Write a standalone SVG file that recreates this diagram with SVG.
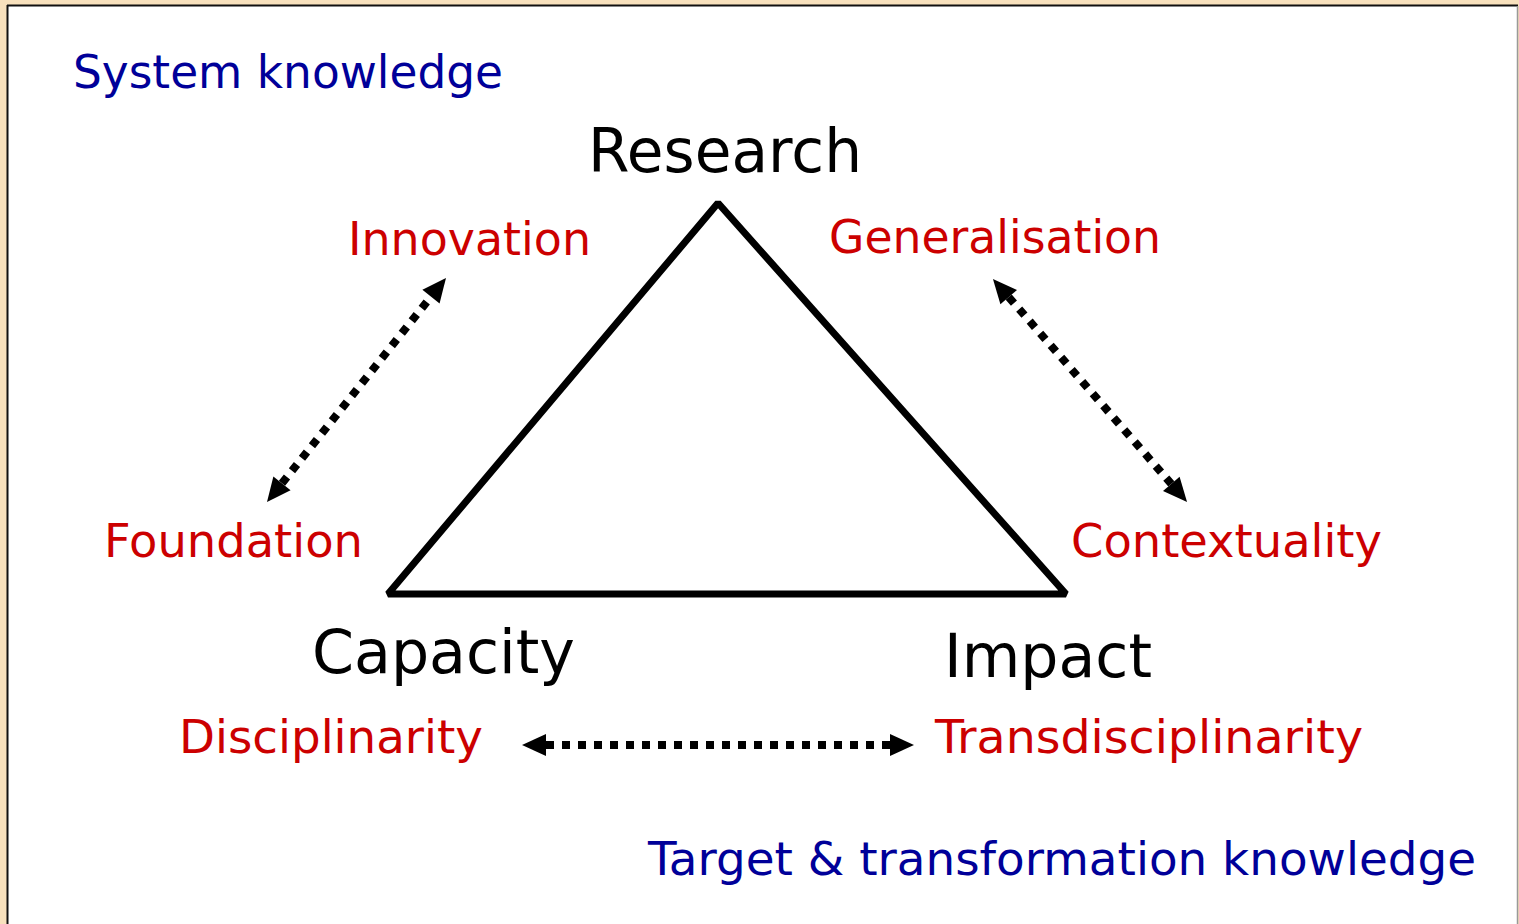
<svg xmlns="http://www.w3.org/2000/svg" width="1519" height="924" viewBox="0 0 1519 924">
<style>
text{font-family:"DejaVu Sans","Noto Sans",sans-serif}
.blue{fill:#000099;font-size:46px}
.red{fill:#cc0000;font-size:46px}
.blk{fill:#000;font-size:60px}
.dot{stroke:#000;stroke-width:8;stroke-dasharray:8 8;fill:none;marker-start:url(#ah);marker-end:url(#ah)}
</style>
<defs>
<marker id="ah" markerUnits="userSpaceOnUse" markerWidth="26" markerHeight="24" refX="0" refY="11" orient="auto-start-reverse" overflow="visible">
<path d="M0,0 L24,11 L0,22 z" fill="#000"/>
</marker>
</defs>
<rect x="0" y="0" width="1519" height="924" fill="#f8e1bd"/>
<rect x="7" y="5" width="1511" height="930" fill="#fff"/>
<line x1="7.5" y1="5" x2="7.5" y2="924" stroke="#111" stroke-width="2"/>
<line x1="7" y1="5.5" x2="1518" y2="5.5" stroke="#111" stroke-width="2"/>
<line x1="1517.5" y1="6" x2="1517.5" y2="924" stroke="#999" stroke-width="1.5"/>
<g id="triangle">
<polygon points="718,203 388,594 1066,594" fill="none" stroke="#000" stroke-width="7" stroke-linejoin="bevel"/>
</g>
<g id="connectors">
<line class="dot" x1="282" y1="483.3" x2="431" y2="296.7"/>
<line class="dot" x1="1008.7" y1="297.1" x2="1171.3" y2="483.9"/>
<line class="dot" x1="546" y1="745" x2="890" y2="745"/>
</g>
<g id="system-knowledge"><text class="blue" x="73" y="88" textLength="430" lengthAdjust="spacingAndGlyphs">System knowledge</text></g>
<g id="research"><text class="blk" x="588" y="172" textLength="274" lengthAdjust="spacingAndGlyphs">Research</text></g>
<g id="innovation"><text class="red" x="348" y="255" textLength="243" lengthAdjust="spacingAndGlyphs">Innovation</text></g>
<g id="generalisation"><text class="red" x="829" y="253" textLength="332" lengthAdjust="spacingAndGlyphs">Generalisation</text></g>
<g id="foundation"><text class="red" x="104" y="557" textLength="259" lengthAdjust="spacingAndGlyphs">Foundation</text></g>
<g id="contextuality"><text class="red" x="1071" y="557" textLength="311" lengthAdjust="spacingAndGlyphs">Contextuality</text></g>
<g id="capacity"><text class="blk" x="312" y="673" textLength="263" lengthAdjust="spacingAndGlyphs">Capacity</text></g>
<g id="impact"><text class="blk" x="944" y="677" textLength="208" lengthAdjust="spacingAndGlyphs">Impact</text></g>
<g id="disciplinarity"><text class="red" x="179" y="753" textLength="304" lengthAdjust="spacingAndGlyphs">Disciplinarity</text></g>
<g id="transdisciplinarity"><text class="red" x="935" y="753" textLength="428" lengthAdjust="spacingAndGlyphs">Transdisciplinarity</text></g>
<g id="target-knowledge"><text class="blue" x="648" y="875" textLength="828" lengthAdjust="spacingAndGlyphs">Target &amp; transformation knowledge</text></g>
</svg>
